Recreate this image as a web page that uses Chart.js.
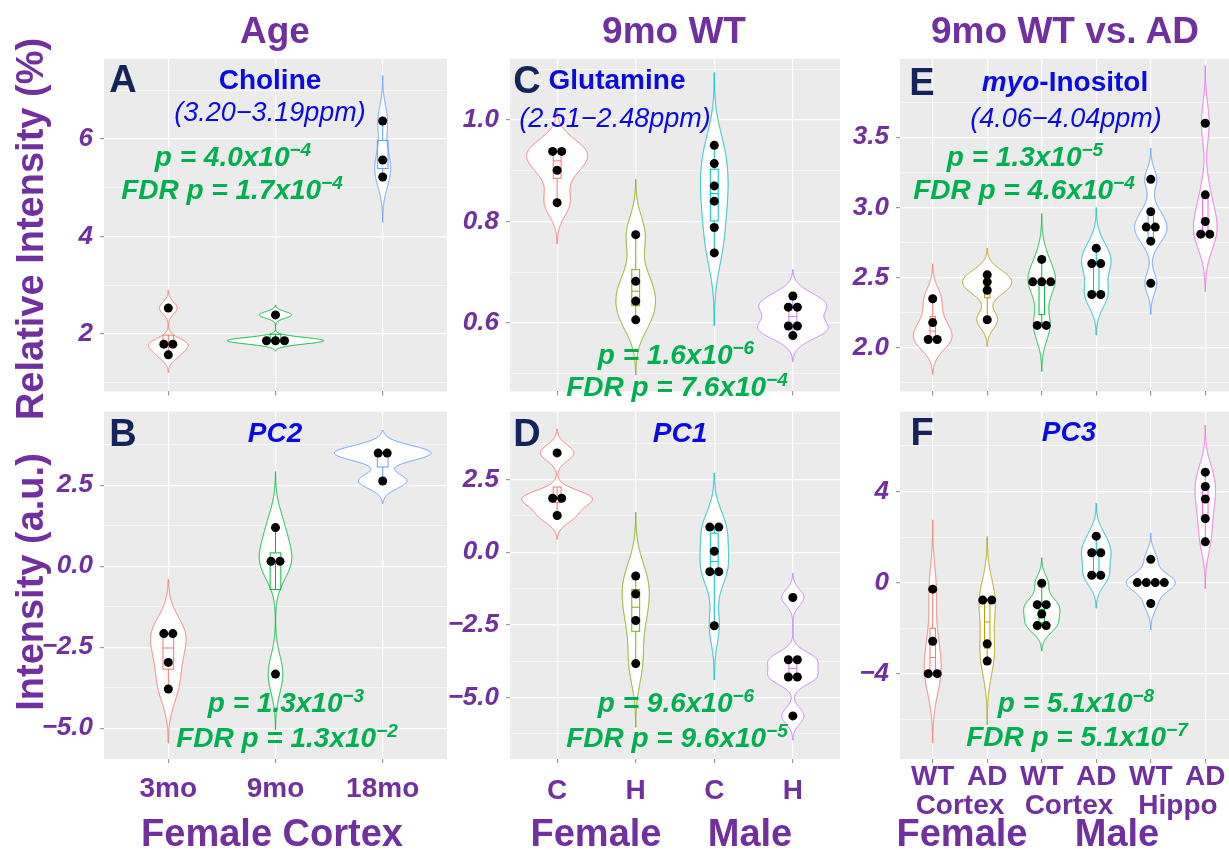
<!DOCTYPE html>
<html>
<head>
<meta charset="utf-8">
<script src="https://cdn.jsdelivr.net/npm/chart.js@4.4.0/dist/chart.umd.min.js"></script>
<style>
body { margin: 0; background: #fff; }
#fig { position: relative; width: 1229px; height: 850px; overflow: hidden; font-family: "Liberation Sans", Arial, sans-serif; }
#fig canvas { position: absolute; }
.t { position: absolute; white-space: nowrap; transform: translate(-50%, -50%); line-height: 1; }
.sup { font-size: 0.68em; position: relative; top: -0.55em; }
</style>
</head>
<body>
<div id="fig"></div>
<script>
// categories
const ageCats = ['3mo', '9mo', '18mo'];
const sexCats = ['C', 'H', 'C', 'H'];
const adCats = ['WT', 'AD', 'WT', 'AD', 'WT', 'AD'];

// values, one array per group
const choline = [[2.53, 1.79, 1.79, 1.57], [2.39, 1.86, 1.86, 1.86], [6.37, 5.57, 5.22]];
const pc2 = [[-2.08, -2.08, -2.97, -3.79], [1.19, 0.15, 0.15, -3.33], [3.49, 3.49, 2.63]];
const glutamine = [[0.938, 0.938, 0.901, 0.837], [0.774, 0.682, 0.643, 0.606],
	[0.950, 0.914, 0.870, 0.840, 0.788, 0.738], [0.653, 0.631, 0.631, 0.594, 0.594, 0.575]];
const pc1 = [[3.41, 1.85, 1.85, 1.26], [-0.82, -1.44, -2.35, -3.83],
	[0.86, 0.86, 0.03, -0.67, -0.67, -2.53], [-1.56, -3.70, -3.70, -4.29, -4.29, -5.63]];
const inositol = [[2.35, 2.18, 2.06, 2.06], [2.52, 2.47, 2.41, 2.20], [2.63, 2.47, 2.47, 2.47, 2.16, 2.16],
	[2.71, 2.60, 2.60, 2.38, 2.38], [3.20, 2.97, 2.86, 2.86, 2.76, 2.46], [3.60, 3.09, 2.90, 2.81, 2.81]];
const pc3 = [[-0.29, -2.58, -4.0, -4.0], [-0.77, -0.77, -2.69, -3.45], [-0.03, -0.97, -0.97, -1.38, -1.89, -1.89],
	[2.04, 1.31, 1.31, 0.32, 0.32], [1.02, 0, 0, 0, 0, -0.92], [4.85, 4.22, 3.67, 2.81, 1.79]];

// tick labels (major) and minor grid positions
const cholineTicks = [2, 4, 6], cholineMinor = [1, 3, 5, 7];
const pc2Ticks = [-5, -2.5, 0, 2.5], pc2Minor = [-3.75, -1.25, 1.25, 3.75];
const glutamineTicks = [0.6, 0.8, 1.0], glutamineMinor = [0.5, 0.7, 0.9, 1.1];
const pc1Ticks = [-5, -2.5, 0, 2.5], pc1Minor = [-6.25, -3.75, -1.25, 1.25, 3.75];
const inositolTicks = [2.0, 2.5, 3.0, 3.5], inositolMinor = [1.75, 2.25, 2.75, 3.25, 3.75];
const pc3Ticks = [-4, 0, 4], pc3Minor = [-6, -2, 2, 6];

const hue3 = ['#F8766D', '#00BA38', '#619CFF'];
const hue4 = ['#F8766D', '#7CAE00', '#00BFC4', '#C77CFF'];
const hue6 = ['#F8766D', '#B79F00', '#00BA38', '#00BFC4', '#619CFF', '#F564E3'];

const purple = '#7030A0';
const ff = '"Liberation Sans", Arial, sans-serif';
const fig = document.getElementById('fig');

function quantile(s, p) {
	const h = (s.length - 1) * p;
	const lo = Math.floor(h);
	const nxt = lo + 1 < s.length ? s[lo + 1] : s[lo];
	return s[lo] + (h - lo) * (nxt - s[lo]);
}

// bandwidth like R's bw.nrd0
function bwNrd0(v) {
	const n = v.length;
	const m = v.reduce((a, b) => a + b, 0) / n;
	const sd = Math.sqrt(v.reduce((a, b) => a + (b - m) ** 2, 0) / (n - 1));
	const s = [...v].sort((a, b) => a - b);
	let lo = Math.min(sd, (quantile(s, 0.75) - quantile(s, 0.25)) / 1.34);
	if (!(lo > 0)) lo = sd || Math.abs(s[0]) || 1;
	return 0.9 * lo * Math.pow(n, -0.2);
}

// gaussian kde, untrimmed (3 bandwidths past the data)
function density(v) {
	const bw = bwNrd0(v);
	const from = Math.min(...v) - 3 * bw, to = Math.max(...v) + 3 * bw;
	const out = [];
	for (let i = 0; i < 512; i++) {
		const y = from + (to - from) * i / 511;
		let d = 0;
		v.forEach(x => { d += Math.exp(-0.5 * ((y - x) / bw) ** 2); });
		out.push({ y: y, d: d / (v.length * bw * Math.sqrt(2 * Math.PI)) });
	}
	return out;
}

function boxStats(v) {
	const s = [...v].sort((a, b) => a - b);
	const q1 = quantile(s, 0.25), med = quantile(s, 0.5), q3 = quantile(s, 0.75);
	const iqr = q3 - q1;
	const lo = s.find(x => x >= q1 - 1.5 * iqr);
	const hi = [...s].reverse().find(x => x <= q3 + 1.5 * iqr);
	return { q1, med, q3, lo, hi };
}

function violinPlugin(groups, colors) {
	return {
		id: 'violins',
		beforeDraw(chart) {
			const a = chart.chartArea, c = chart.ctx;
			c.save();
			c.fillStyle = '#EBEBEB';
			c.fillRect(a.left, a.top, a.width, a.height);
			c.restore();
		},
		beforeDatasetsDraw(chart) {
			const { x, y } = chart.scales;
			const c = chart.ctx, a = chart.chartArea;
			const dens = groups.map(density);
			const maxD = Math.max(...dens.flat().map(q => q.d));
			c.save();
			c.beginPath();
			c.rect(a.left, a.top, a.width, a.height);
			c.clip();
			c.lineWidth = 1;
			dens.forEach((pts, i) => {
				const cx = i + 1;
				c.beginPath();
				pts.forEach((q, k) => {
					const px = x.getPixelForValue(cx - 0.45 * q.d / maxD), py = y.getPixelForValue(q.y);
					if (k) c.lineTo(px, py); else c.moveTo(px, py);
				});
				for (let k = pts.length - 1; k >= 0; k--) {
					c.lineTo(x.getPixelForValue(cx + 0.45 * pts[k].d / maxD), y.getPixelForValue(pts[k].y));
				}
				c.closePath();
				c.fillStyle = '#fff';
				c.fill();
				c.strokeStyle = colors[i];
				c.stroke();

				// boxplot
				const b = boxStats(groups[i]);
				const xl = x.getPixelForValue(cx - 0.05), xr = x.getPixelForValue(cx + 0.05), xm = x.getPixelForValue(cx);
				c.beginPath();
				c.moveTo(xm, y.getPixelForValue(b.hi));
				c.lineTo(xm, y.getPixelForValue(b.q3));
				c.moveTo(xm, y.getPixelForValue(b.q1));
				c.lineTo(xm, y.getPixelForValue(b.lo));
				c.moveTo(xl, y.getPixelForValue(b.med));
				c.lineTo(xr, y.getPixelForValue(b.med));
				c.stroke();
				c.strokeRect(xl, y.getPixelForValue(b.q3), xr - xl, y.getPixelForValue(b.q1) - y.getPixelForValue(b.q3));
			});
			c.restore();
		}
	};
}

function makePanel(o) {
	const [l, t, r, b] = o.rect;
	const yW = 100, padT = 20, padR = 30;
	const xH = o.showX ? 60 : 10;
	const w = yW + (r - l) + padR, h = padT + (b - t) + xH;
	const cv = document.createElement('canvas');
	cv.width = w; cv.height = h;
	cv.style.left = (l - yW) + 'px';
	cv.style.top = (t - padT) + 'px';
	cv.style.width = w + 'px';
	cv.style.height = h + 'px';
	fig.appendChild(cv);

	// dots with equal values sit side by side
	const dx = 9 / ((r - l) / (o.cats.length + 0.2));
	const pts = [];
	o.groups.forEach((vals, i) => {
		const counts = new Map();
		vals.forEach(v => counts.set(v, (counts.get(v) || 0) + 1));
		counts.forEach((n, v) => {
			for (let j = 0; j < n; j++) pts.push({ x: i + 1 + (j - (n - 1) / 2) * dx, y: v });
		});
	});

	const isMajor = v => o.majors.some(m => Math.abs(m - v) < 1e-9);

	new Chart(cv, {
		type: 'scatter',
		data: { datasets: [{ data: pts, pointRadius: 4.5, pointHoverRadius: 4.5, backgroundColor: '#000', borderWidth: 0 }] },
		options: {
			responsive: false,
			animation: false,
			devicePixelRatio: 1,
			layout: { padding: { top: padT, right: padR, left: 0, bottom: 0 } },
			plugins: { legend: { display: false }, tooltip: { enabled: false } },
			scales: {
				x: {
					type: 'linear',
					min: 0.4,
					max: o.cats.length + 0.6,
					afterBuildTicks: s => { s.ticks = o.cats.map((c, i) => ({ value: i + 1 })); },
					afterFit: s => { s.height = xH; },
					grid: { color: '#fff', lineWidth: 1.2, tickColor: '#999', tickLength: 4 },
					border: { display: false },
					ticks: {
						display: o.showX, autoSkip: false, maxRotation: 0,
						callback: (v, i) => o.cats[i],
						padding: o.xPad || 0,
						color: purple,
						font: { family: ff, size: 28, weight: 'bold', lineHeight: 1 }
					}
				},
				y: {
					min: o.yMin,
					max: o.yMax,
					afterBuildTicks: s => { s.ticks = o.majors.concat(o.minors).sort((a, b) => a - b).map(v => ({ value: v })); },
					afterFit: s => { s.width = yW; },
					grid: {
						color: '#fff',
						lineWidth: c => isMajor(c.tick.value) ? 1.2 : 0.6,
						tickColor: c => isMajor(c.tick.value) ? '#999' : 'rgba(0,0,0,0)',
						tickLength: 4
					},
					border: { display: false },
					ticks: {
						autoSkip: false,
						callback: v => isMajor(v) ? o.fmt(v) : '',
						padding: 7,
						color: purple,
						font: { family: ff, size: 26, weight: 'bold', style: 'italic' }
					}
				}
			}
		},
		plugins: [violinPlugin(o.groups, o.colors)]
	});
}

const int0 = v => String(v).replace('-', '\u2212');
const dec1 = v => v.toFixed(1).replace('-', '\u2212');

makePanel({ rect: [104, 56, 447, 404], cats: ageCats, groups: choline, colors: hue3, yMin: 0.82, yMax: 7.65, majors: cholineTicks, minors: cholineMinor, fmt: int0, showX: false });
makePanel({ rect: [104, 409, 447, 759], cats: ageCats, groups: pc2, colors: hue3, yMin: -5.95, yMax: 4.77, majors: pc2Ticks, minors: pc2Minor, fmt: dec1, showX: true, xPad: 12 });
makePanel({ rect: [510, 56, 840, 404], cats: sexCats, groups: glutamine, colors: hue4, yMin: 0.465, yMax: 1.121, majors: glutamineTicks, minors: glutamineMinor, fmt: dec1, showX: false });
makePanel({ rect: [510, 409, 840, 759], cats: sexCats, groups: pc1, colors: hue4, yMin: -7.11, yMax: 4.83, majors: pc1Ticks, minors: pc1Minor, fmt: dec1, showX: true, xPad: 14 });
makePanel({ rect: [900, 56, 1238, 404], cats: adCats, groups: inositol, colors: hue6, yMin: 1.69, yMax: 4.06, majors: inositolTicks, minors: inositolMinor, fmt: dec1, showX: false });
makePanel({ rect: [900, 409, 1238, 759], cats: adCats, groups: pc3, colors: hue6, yMin: -7.75, yMax: 7.51, majors: pc3Ticks, minors: pc3Minor, fmt: int0, showX: true, xPad: 0 });

// text
function label(html, cx, cy, style) {
	const d = document.createElement('div');
	d.className = 't';
	d.innerHTML = html;
	d.style.cssText += `left:${cx}px;top:${cy}px;` + style;
	fig.appendChild(d);
	return d;
}
const sci = (m, e) => `${m}x10<span class="sup">\u2212${e}</span>`;

const titleS = `font-size:37px;font-weight:bold;color:${purple};`;
label('Age', 275, 30, titleS);
label('9mo WT', 674, 30, titleS);
label('9mo WT vs. AD', 1065, 30, titleS);

const yTitle = label('Relative Intensity (%)', 30, 229, `font-size:38px;font-weight:bold;color:${purple};`);
yTitle.style.transform = 'translate(-50%,-50%) rotate(-90deg)';
const yTitle2 = label('Intensity (a.u.)', 30, 582, `font-size:38px;font-weight:bold;color:${purple};`);
yTitle2.style.transform = 'translate(-50%,-50%) rotate(-90deg)';

const letterS = 'font-size:38px;font-weight:bold;color:#14245A;';
const nameS = 'font-size:28px;font-weight:bold;color:#0A0AE6;';
const pcS = 'font-size:28px;font-weight:bold;font-style:italic;color:#0A0AE6;';
const ppmS = 'font-size:27px;font-style:italic;color:#0A0AE6;';
const pS = 'font-size:28px;font-weight:bold;font-style:italic;color:#00B050;';

label('A', 123, 79, letterS);
label('Choline', 270, 80, nameS);
label('(3.20\u22123.19ppm)', 270, 112, ppmS);
label('p = ' + sci('4.0', 4), 233, 157, pS);
label('FDR p = ' + sci('1.7', 4), 232, 190, pS);

label('B', 123, 433, letterS);
label('PC2', 275, 433, pcS);
label('p = ' + sci('1.3', 3), 286, 703, pS);
label('FDR p = ' + sci('1.3', 2), 287, 738, pS);

label('C', 527, 80, letterS);
label('Glutamine', 617, 80, nameS);
label('(2.51\u22122.48ppm)', 615, 118, ppmS);
label('p = ' + sci('1.6', 6), 676, 355, pS);
label('FDR p = ' + sci('7.6', 4), 677, 387, pS);

label('D', 527, 433, letterS);
label('PC1', 680, 433, pcS);
label('p = ' + sci('9.6', 6), 676, 703, pS);
label('FDR p = ' + sci('9.6', 5), 677, 738, pS);

label('E', 922, 82, letterS);
label('<i>myo</i>-Inositol', 1065, 82, nameS);
label('(4.06\u22124.04ppm)', 1066, 118, ppmS);
label('p = ' + sci('1.3', 5), 1025, 157, pS);
label('FDR p = ' + sci('4.6', 4), 1024, 190, pS);

label('F', 922, 432, letterS);
label('PC3', 1069, 432, pcS);
label('p = ' + sci('5.1', 8), 1076, 703, pS);
label('FDR p = ' + sci('5.1', 7), 1077, 737, pS);

const xS = `font-size:28px;font-weight:bold;color:${purple};`;
const groupS = `font-size:38px;font-weight:bold;color:${purple};`;
label('Female Cortex', 272, 833, groupS);
label('Female', 596, 833, groupS);
label('Male', 750, 833, groupS);
label('Cortex', 960, 805, xS);
label('Cortex', 1069, 805, xS);
label('Hippo', 1178, 805, xS);
label('Female', 962, 833, groupS);
label('Male', 1117, 833, groupS);
</script>
</body>
</html>
